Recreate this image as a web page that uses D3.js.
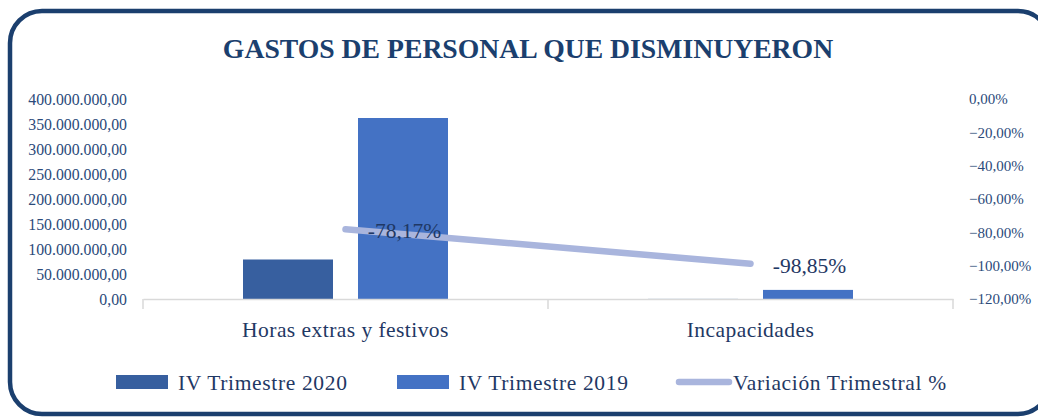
<!DOCTYPE html>
<html><head><meta charset="utf-8">
<script src="https://cdn.jsdelivr.net/npm/d3@7"></script>
<style>body{margin:0;background:#fff}svg{display:block}</style>
</head><body>
<script>
const categories = ["Horas extras y festivos", "Incapacidades"];
const seriesNames = ["IV Trimestre 2020", "IV Trimestre 2019"];
const values2020 = [79000000, 210000];
const values2019 = [362000000, 18200000];
const variation = [-78.17, -98.85];
const variationLabels = ["-78,17%", "-98,85%"];
const lineName = "Variación Trimestral %";
const leftTicks = [0, 50e6, 100e6, 150e6, 200e6, 250e6, 300e6, 350e6, 400e6];
const rightTicks = [0, -20, -40, -60, -80, -100, -120];
const title = "GASTOS DE PERSONAL QUE DISMINUYERON";

const W = 1038, H = 417;
const colors = ["#375f9f", "#4472c4"];
const lineColor = "#a9b5dd";
const textColor = "#1f3864";
const font = "'Liberation Serif', 'DejaVu Serif', serif";

const svg = d3.select("body").append("svg").attr("width", W).attr("height", H)
  .style("font-family", font);

svg.append("rect").attr("x", 10).attr("y", 11).attr("width", 1040).attr("height", 403)
  .attr("rx", 32).attr("fill", "#fff").attr("stroke", "#1b3f6e").attr("stroke-width", 4.5);

svg.append("text").attr("x", 528).attr("y", 58).attr("text-anchor", "middle")
  .attr("font-size", 27.7).attr("font-weight", "bold").attr("fill", "#1b3f6e").text(title);

const plotL = 143, plotR = 953, plotT = 99, plotB = 299;
const x0 = d3.scaleBand().domain(categories).range([plotL, plotR]).paddingInner(0).paddingOuter(0);
const x1 = d3.scaleBand().domain(seriesNames).range([100, 305]).paddingInner(0.2174).paddingOuter(0);
const yL = d3.scaleLinear().domain([0, 400e6]).range([plotB, plotT]);
const yR = d3.scaleLinear().domain([-120, 0]).range([plotB, plotT]);

// bars
const seriesVals = [values2020, values2019];
const g = svg.append("g");
categories.forEach((c, i) => {
  seriesNames.forEach((s, j) => {
    const v = seriesVals[j][i];
    g.append("rect").attr("x", x0(c) + x1(s)).attr("y", yL(v))
      .attr("width", x1.bandwidth()).attr("height", plotB - yL(v)).attr("fill", colors[j]);
  });
});

// x axis
const xAxis = svg.append("g").attr("transform", `translate(0,${plotB})`)
  .call(d3.axisBottom(x0).tickSize(0).tickFormat(""));
xAxis.select(".domain").attr("stroke", "#d9d9d9").attr("stroke-width", 1.5);
const tickXs = [plotL, x0(categories[1]), plotR];
xAxis.selectAll("line.sep").data(tickXs).enter().append("line").attr("class", "sep")
  .attr("x1", d => d).attr("x2", d => d).attr("y1", 0).attr("y2", 10)
  .attr("stroke", "#d9d9d9").attr("stroke-width", 1.5);
svg.append("g").selectAll("text").data(categories).enter().append("text")
  .attr("x", d => x0(d) + x0.bandwidth() / 2).attr("y", 337).attr("text-anchor", "middle")
  .attr("font-size", 21.5).attr("letter-spacing", 0.45).attr("fill", textColor).text(d => d);

// left axis
const fmtL = v => {
  const s = d3.format(",.2f")(v);
  return s.replace(/,/g, "#").replace(".", ",").replace(/#/g, ".");
};
const la = svg.append("g").attr("transform", `translate(127,0)`)
  .call(d3.axisLeft(yL).tickValues(leftTicks).tickSize(0).tickPadding(0).tickFormat(fmtL));
la.select(".domain").remove();
la.selectAll("text").attr("font-family", font).attr("font-size", 15.8).attr("fill", "#2b4a7a");

// right axis
const fmtR = v => d3.format(".2f")(v).replace(".", ",") + "%";
const ra = svg.append("g").attr("transform", `translate(969,0)`)
  .call(d3.axisRight(yR).tickValues(rightTicks).tickSize(0).tickPadding(0).tickFormat(fmtR));
ra.select(".domain").remove();
ra.selectAll("text").attr("font-family", font).attr("font-size", 15).attr("fill", "#2b4a7a");

// line
const cx = c => x0(c) + x0.bandwidth() / 2;
const line = d3.line().x((d, i) => cx(categories[i])).y(d => yR(d));
svg.append("path").datum(variation).attr("d", line).attr("fill", "none")
  .attr("stroke", lineColor).attr("stroke-width", 6.5).attr("stroke-linecap", "round");
svg.append("g").selectAll("text").data(variation).enter().append("text")
  .attr("x", (d, i) => cx(categories[i]) + 59).attr("y", d => yR(d) + 9)
  .attr("text-anchor", "middle").attr("font-size", 21.5).attr("fill", textColor)
  .text((d, i) => variationLabels[i]);

// legend
const lg = svg.append("g");
const legendItems = [
  {type: "rect", color: colors[0], x: 116, label: seriesNames[0]},
  {type: "rect", color: colors[1], x: 397, label: seriesNames[1]},
  {type: "line", color: lineColor, x: 676, label: lineName}
];
legendItems.forEach(it => {
  if (it.type === "rect") {
    lg.append("rect").attr("x", it.x).attr("y", 375).attr("width", 52).attr("height", 14).attr("fill", it.color);
    lg.append("text").attr("x", it.x + 62).attr("y", 390).attr("font-size", 21.5).attr("letter-spacing", 0.65).attr("fill", textColor).text(it.label);
  } else {
    lg.append("line").attr("x1", it.x + 3).attr("x2", it.x + 53).attr("y1", 382).attr("y2", 382)
      .attr("stroke", it.color).attr("stroke-width", 6.5).attr("stroke-linecap", "round");
    lg.append("text").attr("x", it.x + 57).attr("y", 390).attr("font-size", 21.5).attr("letter-spacing", 0.65).attr("fill", textColor).text(it.label);
  }
});
</script>
</body></html>
